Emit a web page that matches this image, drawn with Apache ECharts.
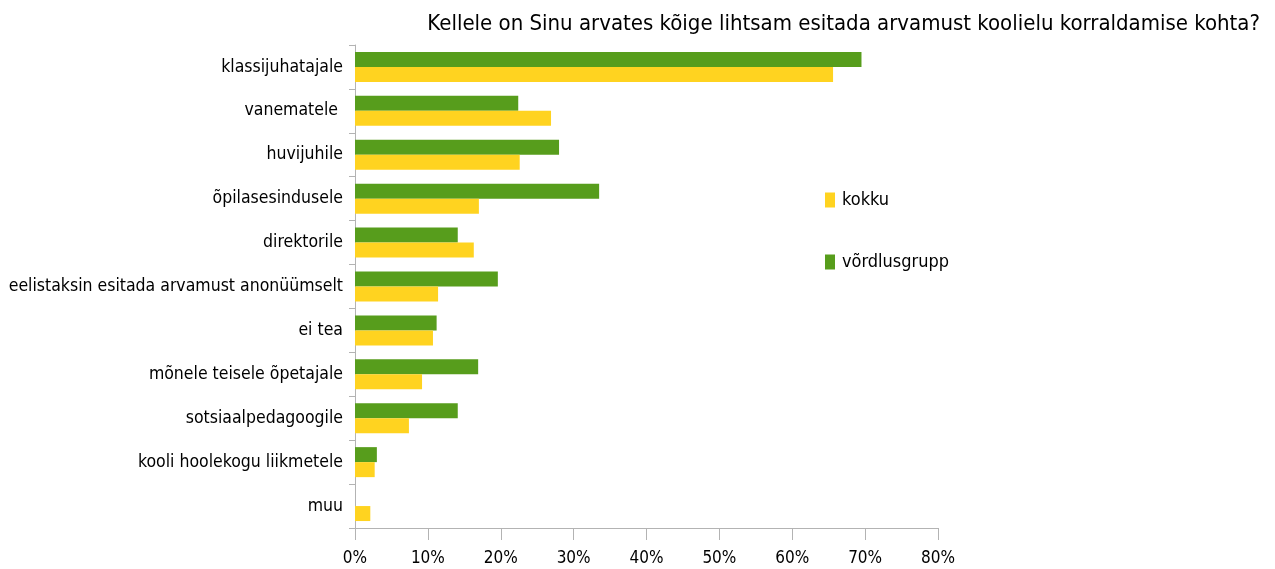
<!DOCTYPE html>
<html>
<head>
<meta charset="utf-8">
<script src="https://cdn.jsdelivr.net/npm/echarts@6/dist/echarts.min.js"></script>
<style>
  html, body { margin: 0; padding: 0; background: #fff; }
  #chart { width: 1275px; height: 569px; }
</style>
</head>
<body>
<div id="chart"></div>
<script>
var categories = [
  'klassijuhatajale',
  'vanematele ',
  'huvijuhile',
  'õpilasesindusele',
  'direktorile',
  'eelistaksin esitada arvamust anonüümselt',
  'ei tea',
  'mõnele teisele õpetajale',
  'sotsiaalpedagoogile',
  'kooli hoolekogu liikmetele',
  'muu'
];
var kokku = [65.6, 26.9, 22.6, 17.0, 16.3, 11.4, 10.7, 9.2, 7.4, 2.7, 2.1];
var vordlusgrupp = [69.5, 22.4, 28.0, 33.5, 14.1, 19.6, 11.2, 16.9, 14.1, 3.0, 0];

var font = '"Liberation Sans Narrow", "Arial Narrow", "DejaVu Sans Condensed", sans-serif';

var chart = echarts.init(document.getElementById('chart'));
var option = {
  animation: false,
  title: {
    text: 'Kellele on Sinu arvates kõige lihtsam esitada arvamust koolielu korraldamise kohta?',
    right: 10,
    top: 8,
    textStyle: { fontFamily: font, fontSize: 22, fontWeight: 'normal', color: '#000' }
  },
  legend: {
    data: ['kokku', 'võrdlusgrupp'],
    orient: 'vertical',
    left: 825,
    top: 191,
    padding: 0,
    itemWidth: 10,
    itemHeight: 15,
    itemGap: 44,
    icon: 'rect',
    textStyle: { fontFamily: font, fontSize: 18, color: '#000', padding: [0, 0, 0, 2] }
  },
  grid: { left: 355, right: 337, top: 45, bottom: 41, outerBoundsMode: 'none' },
  xAxis: {
    type: 'value',
    min: 0,
    max: 80,
    interval: 10,
    axisLine: { show: true, lineStyle: { color: '#b3b3b3' } },
    axisTick: { show: true, length: 12, lineStyle: { color: '#b3b3b3' } },
    splitLine: { show: false },
    axisLabel: {
      formatter: '{value}%',
      margin: 22,
      fontFamily: font, fontSize: 17, color: '#000'
    }
  },
  yAxis: {
    type: 'category',
    data: categories,
    inverse: true,
    axisLine: { lineStyle: { color: '#b3b3b3' } },
    axisTick: { show: true, length: 6, lineStyle: { color: '#b3b3b3' } },
    axisLabel: { margin: 12, fontFamily: font, fontSize: 17.5, color: '#000' }
  },
  series: [
    {
      name: 'võrdlusgrupp',
      type: 'bar',
      data: vordlusgrupp,
      barWidth: 15,
      barGap: '0%',
      itemStyle: { color: '#579d1c' }
    },
    {
      name: 'kokku',
      type: 'bar',
      data: kokku,
      barWidth: 15,
      barGap: '0%',
      itemStyle: { color: '#ffd320' }
    }
  ]
};
chart.setOption(option);
</script>
</body>
</html>
